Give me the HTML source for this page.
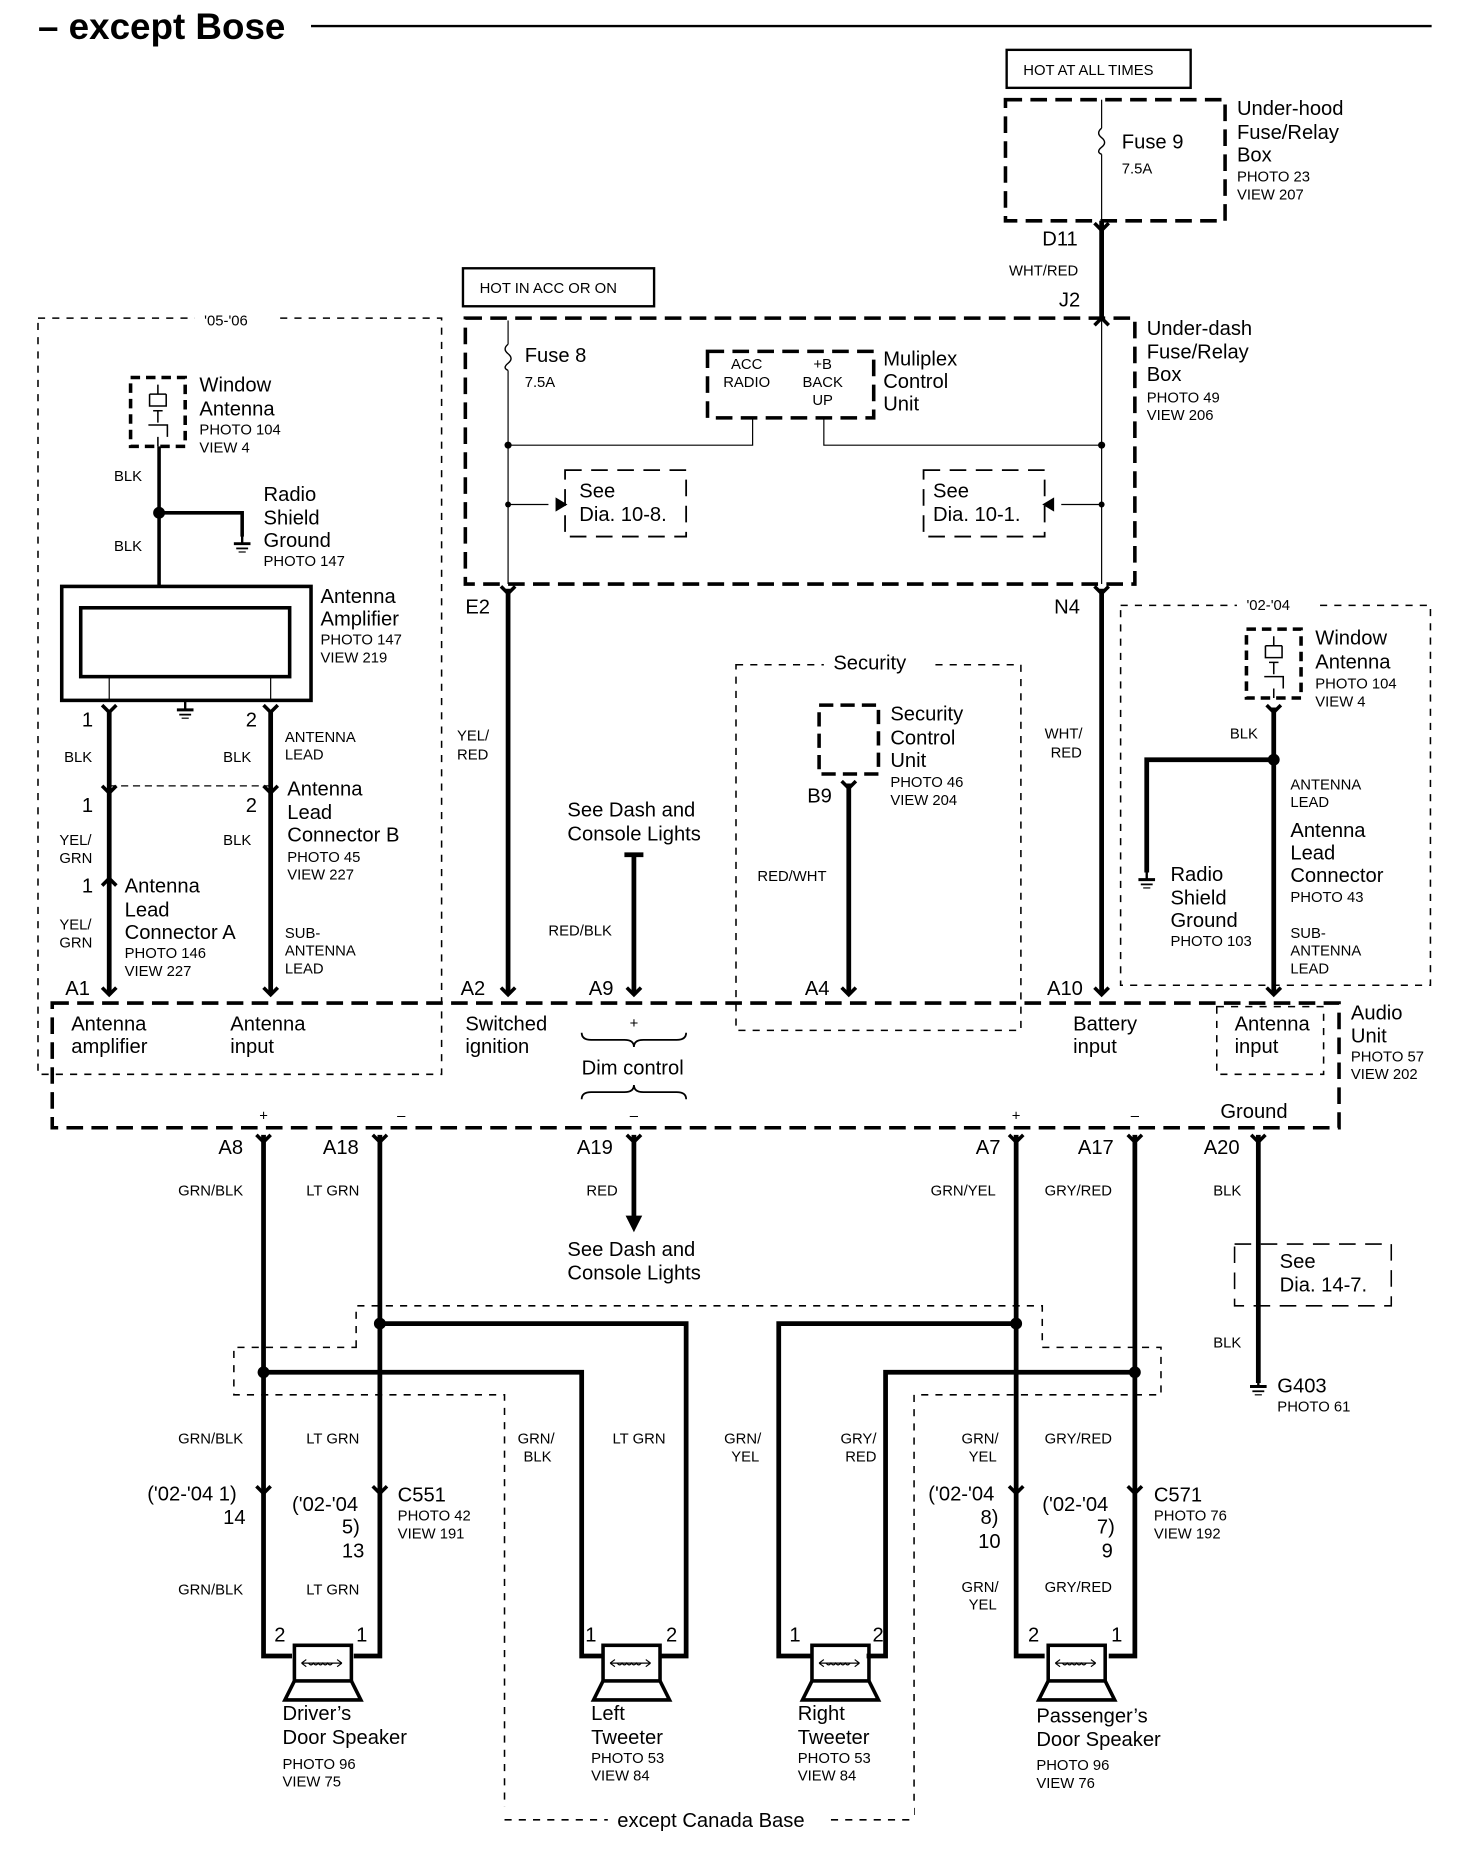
<!DOCTYPE html>
<html><head><meta charset="utf-8"><style>
html,body{margin:0;padding:0;background:#fff}
svg{display:block}
text{font-family:"Liberation Sans",sans-serif;fill:#000}
.b{font-size:17px}
.s{font-size:12.5px}
.w{font-size:12.5px}
</style></head><body>
<svg width="1472" height="1868" viewBox="0 0 1240 1573.6" xmlns="http://www.w3.org/2000/svg">
<defs>
<g id="fk"><path d="M-6,-6 L0,0 L6,-6" fill="none" stroke="#000" stroke-width="3"/></g>
<g id="fku"><path d="M-6,6 L0,0 L6,6" fill="none" stroke="#000" stroke-width="3"/></g>
<g id="gnd"><line x1="0" y1="0" x2="0" y2="8" stroke="#000" stroke-width="2"/><line x1="-7" y1="8" x2="7" y2="8" stroke="#000" stroke-width="2.5"/><line x1="-5" y1="12" x2="5" y2="12" stroke="#000" stroke-width="1.5"/><line x1="-3" y1="15" x2="3" y2="15" stroke="#000" stroke-width="1"/></g>
<g id="spk">
<rect x="-22" y="0" width="48" height="30" fill="none" stroke="#000" stroke-width="3"/>
<path d="M-22,30 L-30,46 L34,46 L26,30" fill="none" stroke="#000" stroke-width="3"/>
<path d="M-16,15 L18,15 M-16,15 l4,-3 M-16,15 l4,3 M18,15 l-4,-3 M18,15 l-4,3" fill="none" stroke="#000" stroke-width="1"/>
<path d="M-10,15 q2,3 4,0 q2,3 4,0 q2,3 4,0 q2,3 4,0 q2,3 4,0" fill="none" stroke="#000" stroke-width="1"/>
</g>
<g id="wa">
<rect x="0" y="0" width="46" height="58" fill="none" stroke="#000" stroke-width="3" stroke-dasharray="8,5"/>
<path d="M23,6 v8 M16,14 h14 M16,14 v10 h14 v-10 M19,28 h8 M23,28 v10 M15,40 h16 v10 M23,50 v8" fill="none" stroke="#000" stroke-width="1.3"/>
</g>
</defs>
<g stroke="#000" fill="none">
<line x1="262" y1="22" x2="1206" y2="22" stroke-width="2"/>
<rect x="848" y="42" width="155" height="32" stroke-width="2"/>
<rect x="390" y="226" width="161" height="32" stroke-width="2"/>
<rect x="847" y="84" width="185" height="102" stroke-width="3" stroke-dasharray="14,7"/>
<line x1="928" y1="84" x2="928" y2="108" stroke-width="1"/>
<path d="M928,108 q-5,4 0,8 q5,4 0,8 q-5,4 0,6" stroke-width="1.2"/>
<line x1="928" y1="130" x2="928" y2="186" stroke-width="1"/>
<line x1="928" y1="186" x2="928" y2="268" stroke-width="4"/>
<rect x="392" y="268" width="564" height="224" stroke-width="3" stroke-dasharray="14,7"/>
<line x1="428" y1="270" x2="428" y2="290" stroke-width="1"/>
<path d="M428,290 q-5,4 0,8 q5,4 0,8 q-5,4 0,6" stroke-width="1.2"/>
<line x1="428" y1="312" x2="428" y2="492" stroke-width="1"/>
<line x1="928" y1="268" x2="928" y2="492" stroke-width="1"/>
<rect x="596" y="296" width="140" height="56" stroke-width="3" stroke-dasharray="14,7"/>
<path d="M634,352 V375 H428 M694,352 V375 H928" stroke-width="1"/>
<line x1="428" y1="425" x2="462" y2="425" stroke-width="1"/>
<line x1="928" y1="425" x2="894" y2="425" stroke-width="1"/>
<rect x="476" y="396" width="102" height="56" stroke-width="1.5" stroke-dasharray="14,8"/>
<rect x="778" y="396" width="102" height="56" stroke-width="1.5" stroke-dasharray="14,8"/>
<line x1="428" y1="496" x2="428" y2="838" stroke-width="4"/>
<line x1="928" y1="496" x2="928" y2="838" stroke-width="4"/>
<rect x="32" y="268" width="340" height="637" stroke-width="1.3" stroke-dasharray="6,6"/>
<line x1="134" y1="376" x2="134" y2="494" stroke-width="3"/>
<path d="M134,432 H204 V452" stroke-width="3"/>
<rect x="52" y="494" width="210" height="96" stroke-width="3"/>
<rect x="68" y="512" width="176" height="58" stroke-width="3"/>
<path d="M92,570 V590 M228,570 V590" stroke-width="1"/>
<path d="M92,598 V838 M228,598 V838" stroke-width="4"/>
<line x1="92" y1="662" x2="228" y2="662" stroke-width="1" stroke-dasharray="6,4"/>
<rect x="44" y="845" width="1084" height="105" stroke-width="3" stroke-dasharray="14,7"/>
<rect x="1025" y="848" width="90" height="57" stroke-width="1.3" stroke-dasharray="6,6"/>
<path d="M490,870 q0,6 8,6 h28 q8,0 8,6 q0,-6 8,-6 h28 q8,0 8,-6" stroke-width="1.5"/>
<path d="M490,926 q0,-6 8,-6 h28 q8,0 8,-6 q0,6 8,6 h28 q8,0 8,6" stroke-width="1.5"/>
<rect x="620" y="560" width="240" height="308" stroke-width="1.3" stroke-dasharray="6,6"/>
<rect x="690" y="594" width="50" height="58" stroke-width="3" stroke-dasharray="12,6"/>
<line x1="715" y1="660" x2="715" y2="838" stroke-width="4"/>
<line x1="534" y1="720" x2="534" y2="838" stroke-width="4"/>
<line x1="526" y1="720" x2="542" y2="720" stroke-width="4"/>
<rect x="944" y="510" width="261" height="320" stroke-width="1.3" stroke-dasharray="6,6"/>
<line x1="1073" y1="596" x2="1073" y2="838" stroke-width="4"/>
<path d="M1073,640 H966 V735" stroke-width="4"/>
<path d="M222,956 V1395 H246 M320,956 V1395 H298 M856,956 V1395 H880 M956,956 V1395 H934" stroke-width="4"/>
<path d="M320,1115 H578 V1395 H556 M222,1156 H490 V1395 H508 M856,1115 H656 V1395 H684 M956,1156 H746 V1395 H730" stroke-width="4"/>
<line x1="534" y1="956" x2="534" y2="1026" stroke-width="4"/>
<line x1="1060" y1="956" x2="1060" y2="1165" stroke-width="4"/>
<rect x="1040" y="1048" width="132" height="52" stroke-width="1.3" stroke-dasharray="14,8"/>
<path d="M300,1135 V1100 H878 V1135 H978 V1175 H770 V1533 H425 V1175 H197 V1135 Z" stroke-width="1.3" stroke-dasharray="6,6"/>
</g>
<g fill="#fff">
<rect x="420" y="1522" width="350" height="20"/>
<rect x="164" y="260" width="68" height="16"/>
<rect x="1042" y="502" width="68" height="16"/>
<rect x="694" y="552" width="90" height="16"/>
</g>
<polygon points="468,419 468,431 478,425" fill="#000"/>
<polygon points="888,419 888,431 878,425" fill="#000"/>
<polygon points="527,1024 541,1024 534,1038" fill="#000"/>
<g fill="#000">
<circle cx="428" cy="375" r="3"/><circle cx="928" cy="375" r="3"/><circle cx="428" cy="425" r="2.5"/><circle cx="928" cy="425" r="2.5"/>
<circle cx="134" cy="432" r="5"/><circle cx="1073" cy="640" r="5"/>
<circle cx="320" cy="1115" r="5"/><circle cx="856" cy="1115" r="5"/><circle cx="222" cy="1156" r="5"/><circle cx="956" cy="1156" r="5"/>
</g>
<use href="#fk" x="928" y="194"/><use href="#fku" x="928" y="268"/>
<use href="#fk" x="428" y="500"/><use href="#fk" x="928" y="500"/>
<use href="#fk" x="92" y="600"/><use href="#fk" x="228" y="600"/>
<use href="#fk" x="92" y="668"/><use href="#fk" x="228" y="668"/>
<use href="#fku" x="92" y="740"/>
<use href="#fk" x="92" y="838"/><use href="#fk" x="228" y="838"/><use href="#fk" x="428" y="838"/><use href="#fk" x="534" y="838"/>
<use href="#fk" x="715" y="664"/><use href="#fk" x="715" y="838"/><use href="#fk" x="928" y="838"/><use href="#fk" x="1073" y="838"/>
<use href="#fk" x="1073" y="600"/>
<use href="#fk" x="222" y="962"/><use href="#fk" x="320" y="962"/><use href="#fk" x="534" y="962"/><use href="#fk" x="856" y="962"/><use href="#fk" x="956" y="962"/><use href="#fk" x="1060" y="962"/>
<use href="#fk" x="222" y="1258"/><use href="#fk" x="320" y="1258"/><use href="#fk" x="856" y="1258"/><use href="#fk" x="956" y="1258"/>
<use href="#wa" x="110" y="318"/><use href="#wa" x="1050" y="530"/>
<use href="#gnd" x="204" y="450"/><use href="#gnd" x="156" y="590"/><use href="#gnd" x="966" y="733"/><use href="#gnd" x="1060" y="1160"/>
<use href="#spk" x="270" y="1386"/><use href="#spk" x="530" y="1386"/><use href="#spk" x="706" y="1386"/><use href="#spk" x="905" y="1386"/>
<text x="32" y="33" style="font-size:31px;font-weight:bold">– except Bose</text>
<text class="s" x="862" y="63">HOT AT ALL TIMES</text>
<text class="s" x="404" y="247">HOT IN ACC OR ON</text>
<text class="b" x="945" y="125">Fuse 9</text><text class="s" x="945" y="146">7.5A</text>
<text class="b" x="1042" y="97">Under-hood</text><text class="b" x="1042" y="117">Fuse/Relay</text><text class="b" x="1042" y="136">Box</text>
<text class="s" x="1042" y="153">PHOTO 23</text><text class="s" x="1042" y="168">VIEW 207</text>
<text class="b" x="878" y="207">D11</text><text class="w" x="850" y="232">WHT/RED</text><text class="b" x="892" y="258">J2</text>
<text class="b" x="966" y="282">Under-dash</text><text class="b" x="966" y="302">Fuse/Relay</text><text class="b" x="966" y="321">Box</text>
<text class="s" x="966" y="339">PHOTO 49</text><text class="s" x="966" y="354">VIEW 206</text>
<text class="b" x="442" y="305">Fuse 8</text><text class="s" x="442" y="326">7.5A</text>
<text class="s" x="629" y="311" text-anchor="middle">ACC</text><text class="s" x="629" y="326" text-anchor="middle">RADIO</text>
<text class="s" x="693" y="311" text-anchor="middle">+B</text><text class="s" x="693" y="326" text-anchor="middle">BACK</text><text class="s" x="693" y="341" text-anchor="middle">UP</text>
<text class="b" x="744" y="308">Muliplex</text><text class="b" x="744" y="327">Control</text><text class="b" x="744" y="346">Unit</text>
<text class="b" x="488" y="419">See</text><text class="b" x="488" y="439">Dia.  10-8.</text>
<text class="b" x="786" y="419">See</text><text class="b" x="786" y="439">Dia.  10-1.</text>
<text class="b" x="392" y="517">E2</text><text class="b" x="888" y="517">N4</text>
<text class="w" x="385" y="624">YEL/</text><text class="w" x="385" y="640">RED</text>
<text class="w" x="880" y="622">WHT/</text><text class="w" x="885" y="638">RED</text>
<text class="s" x="172" y="274">'05-'06</text>
<text class="b" x="168" y="330">Window</text><text class="b" x="168" y="350">Antenna</text><text class="s" x="168" y="366">PHOTO 104</text><text class="s" x="168" y="381">VIEW 4</text>
<text class="w" x="96" y="405">BLK</text><text class="w" x="96" y="464">BLK</text>
<text class="b" x="222" y="422">Radio</text><text class="b" x="222" y="442">Shield</text><text class="b" x="222" y="461">Ground</text><text class="s" x="222" y="477">PHOTO 147</text>
<text class="b" x="270" y="508">Antenna</text><text class="b" x="270" y="527">Amplifier</text><text class="s" x="270" y="543">PHOTO 147</text><text class="s" x="270" y="558">VIEW 219</text>
<text class="b" x="69" y="612">1</text><text class="b" x="207" y="612">2</text>
<text class="w" x="54" y="642">BLK</text><text class="w" x="188" y="642">BLK</text>
<text class="w" x="240" y="625">ANTENNA</text><text class="w" x="240" y="640">LEAD</text>
<text class="b" x="69" y="684">1</text><text class="b" x="207" y="684">2</text>
<text class="b" x="242" y="670">Antenna</text><text class="b" x="242" y="690">Lead</text><text class="b" x="242" y="709">Connector B</text><text class="s" x="242" y="726">PHOTO 45</text><text class="s" x="242" y="741">VIEW 227</text>
<text class="w" x="50" y="712">YEL/</text><text class="w" x="50" y="727">GRN</text><text class="w" x="188" y="712">BLK</text>
<text class="b" x="69" y="752">1</text>
<text class="b" x="105" y="752">Antenna</text><text class="b" x="105" y="772">Lead</text><text class="b" x="105" y="791">Connector A</text><text class="s" x="105" y="807">PHOTO 146</text><text class="s" x="105" y="822">VIEW 227</text>
<text class="w" x="50" y="783">YEL/</text><text class="w" x="50" y="798">GRN</text>
<text class="w" x="240" y="790">SUB-</text><text class="w" x="240" y="805">ANTENNA</text><text class="w" x="240" y="820">LEAD</text>
<text class="b" x="55" y="838">A1</text><text class="b" x="388" y="838">A2</text><text class="b" x="496" y="838">A9</text><text class="b" x="678" y="838">A4</text><text class="b" x="882" y="838">A10</text>
<text class="b" x="478" y="688">See Dash and</text><text class="b" x="478" y="708">Console Lights</text>
<text class="w" x="462" y="788">RED/BLK</text>
<text class="b" x="702" y="564">Security</text>
<text class="b" x="750" y="607">Security</text><text class="b" x="750" y="627">Control</text><text class="b" x="750" y="646">Unit</text><text class="s" x="750" y="663">PHOTO 46</text><text class="s" x="750" y="678">VIEW 204</text>
<text class="b" x="680" y="676">B9</text><text class="w" x="638" y="742">RED/WHT</text>
<text class="s" x="1050" y="514">'02-'04</text>
<text class="b" x="1108" y="543">Window</text><text class="b" x="1108" y="563">Antenna</text><text class="s" x="1108" y="580">PHOTO 104</text><text class="s" x="1108" y="595">VIEW 4</text>
<text class="w" x="1036" y="622">BLK</text>
<text class="w" x="1087" y="665">ANTENNA</text><text class="w" x="1087" y="680">LEAD</text>
<text class="b" x="1087" y="705">Antenna</text><text class="b" x="1087" y="724">Lead</text><text class="b" x="1087" y="743">Connector</text><text class="s" x="1087" y="760">PHOTO 43</text>
<text class="w" x="1087" y="790">SUB-</text><text class="w" x="1087" y="805">ANTENNA</text><text class="w" x="1087" y="820">LEAD</text>
<text class="b" x="986" y="742">Radio</text><text class="b" x="986" y="762">Shield</text><text class="b" x="986" y="781">Ground</text><text class="s" x="986" y="797">PHOTO 103</text>
<text class="b" x="60" y="868">Antenna</text><text class="b" x="60" y="887">amplifier</text>
<text class="b" x="194" y="868">Antenna</text><text class="b" x="194" y="887">input</text>
<text class="b" x="392" y="868">Switched</text><text class="b" x="392" y="887">ignition</text>
<text class="s" x="534" y="866" text-anchor="middle">+</text>
<text class="b" x="490" y="905">Dim control</text>
<text class="s" x="534" y="944" text-anchor="middle">–</text>
<text class="b" x="904" y="868">Battery</text><text class="b" x="904" y="887">input</text>
<text class="b" x="1040" y="868">Antenna</text><text class="b" x="1040" y="887">input</text>
<text class="b" x="1028" y="942">Ground</text>
<text class="b" x="1138" y="859">Audio</text><text class="b" x="1138" y="878">Unit</text><text class="s" x="1138" y="894">PHOTO 57</text><text class="s" x="1138" y="909">VIEW 202</text>
<text class="s" x="222" y="944" text-anchor="middle">+</text><text class="s" x="338" y="944" text-anchor="middle">–</text><text class="s" x="856" y="944" text-anchor="middle">+</text><text class="s" x="956" y="944" text-anchor="middle">–</text>
<text class="b" x="184" y="972">A8</text><text class="b" x="272" y="972">A18</text><text class="b" x="486" y="972">A19</text><text class="b" x="822" y="972">A7</text><text class="b" x="908" y="972">A17</text><text class="b" x="1014" y="972">A20</text>
<text class="w" x="150" y="1007">GRN/BLK</text><text class="w" x="258" y="1007">LT GRN</text><text class="w" x="494" y="1007">RED</text><text class="w" x="784" y="1007">GRN/YEL</text><text class="w" x="880" y="1007">GRY/RED</text><text class="w" x="1022" y="1007">BLK</text>
<text class="b" x="478" y="1058">See Dash and</text><text class="b" x="478" y="1078">Console Lights</text>
<text class="b" x="1078" y="1068">See</text><text class="b" x="1078" y="1088">Dia.  14-7.</text>
<text class="w" x="1022" y="1135">BLK</text>
<text class="b" x="1076" y="1173">G403</text><text class="s" x="1076" y="1189">PHOTO 61</text>
<text class="w" x="150" y="1216">GRN/BLK</text><text class="w" x="258" y="1216">LT GRN</text>
<text class="w" x="436" y="1216">GRN/</text><text class="w" x="441" y="1231">BLK</text><text class="w" x="516" y="1216">LT GRN</text>
<text class="w" x="610" y="1216">GRN/</text><text class="w" x="616" y="1231">YEL</text><text class="w" x="708" y="1216">GRY/</text><text class="w" x="712" y="1231">RED</text>
<text class="w" x="810" y="1216">GRN/</text><text class="w" x="816" y="1231">YEL</text><text class="w" x="880" y="1216">GRY/RED</text>
<text class="b" x="124" y="1264">('02-'04 1)</text><text class="b" x="188" y="1284">14</text>
<text class="b" x="246" y="1273">('02-'04</text><text class="b" x="288" y="1292">5)</text><text class="b" x="288" y="1312">13</text>
<text class="b" x="335" y="1265">C551</text><text class="s" x="335" y="1281">PHOTO 42</text><text class="s" x="335" y="1296">VIEW 191</text>
<text class="b" x="782" y="1264">('02-'04</text><text class="b" x="826" y="1284">8)</text><text class="b" x="824" y="1304">10</text>
<text class="b" x="878" y="1273">('02-'04</text><text class="b" x="924" y="1292">7)</text><text class="b" x="928" y="1312">9</text>
<text class="b" x="972" y="1265">C571</text><text class="s" x="972" y="1281">PHOTO 76</text><text class="s" x="972" y="1296">VIEW 192</text>
<text class="w" x="150" y="1343">GRN/BLK</text><text class="w" x="258" y="1343">LT GRN</text>
<text class="w" x="810" y="1341">GRN/</text><text class="w" x="816" y="1356">YEL</text><text class="w" x="880" y="1341">GRY/RED</text>
<text class="b" x="231" y="1383">2</text><text class="b" x="300" y="1383">1</text>
<text class="b" x="493" y="1383">1</text><text class="b" x="561" y="1383">2</text>
<text class="b" x="665" y="1383">1</text><text class="b" x="735" y="1383">2</text>
<text class="b" x="866" y="1383">2</text><text class="b" x="936" y="1383">1</text>
<text class="b" x="238" y="1449">Driver’s</text><text class="b" x="238" y="1469">Door Speaker</text><text class="s" x="238" y="1490">PHOTO 96</text><text class="s" x="238" y="1505">VIEW 75</text>
<text class="b" x="498" y="1449">Left</text><text class="b" x="498" y="1469">Tweeter</text><text class="s" x="498" y="1485">PHOTO 53</text><text class="s" x="498" y="1500">VIEW 84</text>
<text class="b" x="672" y="1449">Right</text><text class="b" x="672" y="1469">Tweeter</text><text class="s" x="672" y="1485">PHOTO 53</text><text class="s" x="672" y="1500">VIEW 84</text>
<text class="b" x="873" y="1451">Passenger’s</text><text class="b" x="873" y="1471">Door Speaker</text><text class="s" x="873" y="1491">PHOTO 96</text><text class="s" x="873" y="1506">VIEW 76</text>
<text class="b" x="520" y="1539">except Canada Base</text>
<line x1="425" y1="1533" x2="512" y2="1533" stroke="#000" stroke-width="1.3" stroke-dasharray="6,6"/>
<line x1="700" y1="1533" x2="770" y2="1533" stroke="#000" stroke-width="1.3" stroke-dasharray="6,6"/>
</svg>
</body></html>
